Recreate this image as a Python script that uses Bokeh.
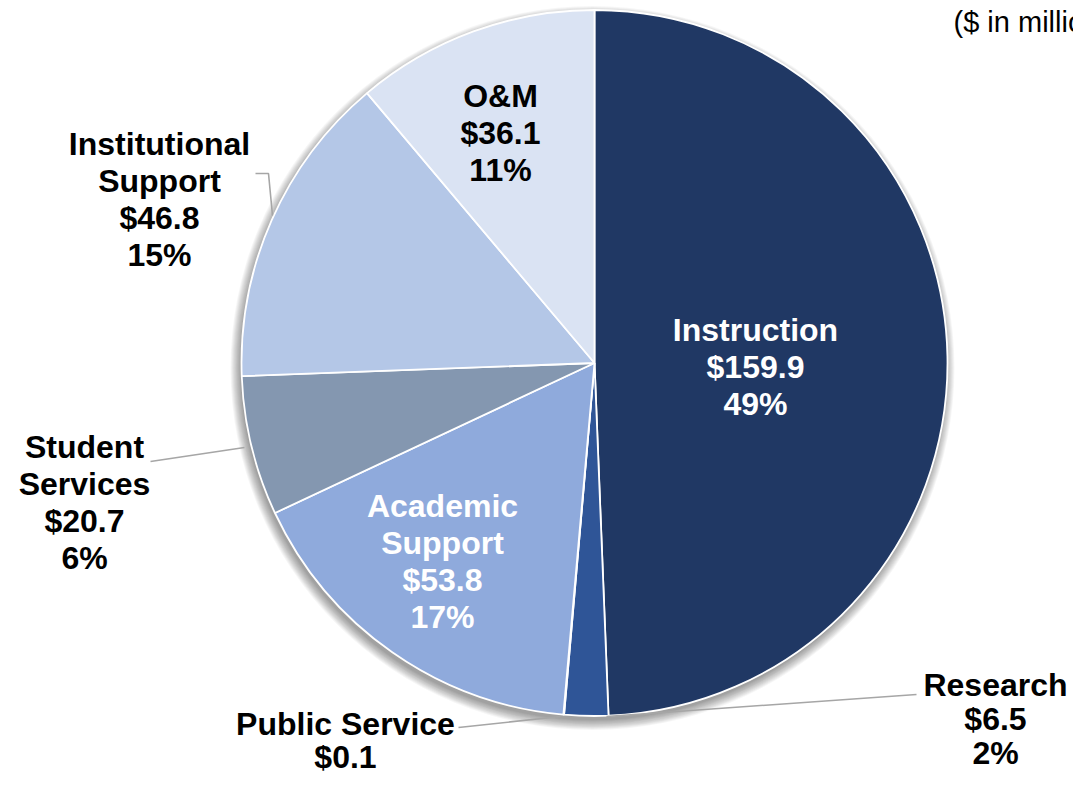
import math
from bokeh.plotting import figure
from bokeh.models import Range1d, ColumnDataSource
from bokeh.core.properties import value
from bokeh.embed import file_html
from bokeh.resources import INLINE

# ---- data ----
categories = ["Instruction", "Research", "Public Service", "Academic Support",
              "Student Services", "Institutional Support", "O&M"]
amounts = [159.9, 6.5, 0.1, 53.8, 20.7, 46.8, 36.1]
amount_labels = ["$159.9", "$6.5", "$0.1", "$53.8", "$20.7", "$46.8", "$36.1"]
pct_labels = ["49%", "2%", "", "17%", "6%", "15%", "11%"]
name_lines = [["Instruction"], ["Research"], ["Public Service"], ["Academic", "Support"],
              ["Student", "Services"], ["Institutional", "Support"], ["O&M"]]
note_text = "($ in millions)"

# ---- styles ----
colors = ["#203864", "#2F5597", "#4472C4", "#8FAADC", "#8497B0", "#B4C7E7", "#DAE3F3"]
text_colors = ["white", "black", "black", "white", "black", "black", "black"]
label_anchor = [(755, 329), (995, 684), (345, 723), (442, 505), (84, 446), (159, 143), (500, 95)]
line_h = [37.3, 34.0, 33.0, 37.3, 37.3, 37.3, 37.3]
FONT = "Liberation Sans"
FS = "32px"

W, H = 1073, 778
PAGE_H = 794


def Y(sy):
    return PAGE_H - sy


p = figure(width=W, height=H, output_backend="svg", toolbar_location=None,
           x_range=Range1d(0, W), y_range=Range1d(PAGE_H - H, PAGE_H),
           min_border=0, border_fill_color="white", background_fill_color="white")
p.xaxis.visible = False
p.yaxis.visible = False
p.xgrid.visible = False
p.ygrid.visible = False
p.outline_line_color = None

cx, cy, R = 594, 362.5, 353

# soft shadow
for k in range(12):
    p.circle(x=[cx - 2], y=[Y(cy + 5)], radius=R + 9 - k * 0.9, fill_color="black",
             fill_alpha=0.035, line_color=None)

total = sum(amounts)
starts, ends = [], []
cum = 0.0
for a in amounts:
    starts.append(math.pi / 2 - 2 * math.pi * cum / total)
    cum += a
    ends.append(math.pi / 2 - 2 * math.pi * cum / total)

src = ColumnDataSource(dict(cat=categories, amt=amounts, start=starts, end=ends, color=colors))
p.wedge(x=cx, y=Y(cy), radius=R, start_angle="start", end_angle="end", direction="clock",
        fill_color="color", line_color="white", line_width=1.8, source=src)

# leader lines (screen coords)
leaders = [
    [(606, 716), (916, 694)],
    [(560, 716), (458, 727)],
    [(244, 447), (150, 461)],
    [(272, 215), (268, 173), (255, 173)],
]
for pts in leaders:
    p.line([q[0] for q in pts], [Y(q[1]) for q in pts], line_color="#A6A6A6", line_width=1.6)

# labels
for i, cat in enumerate(categories):
    lines = list(name_lines[i]) + [amount_labels[i]]
    if pct_labels[i]:
        lines.append(pct_labels[i])
    ax, ay = label_anchor[i]
    xs = [ax] * len(lines)
    ys = [Y(ay + j * line_h[i]) for j in range(len(lines))]
    p.text(x=xs, y=ys, text=lines, text_font=value(FONT), text_font_style="bold",
           text_font_size=FS, text_align="center", text_baseline="middle",
           text_color=text_colors[i])

p.text(x=[953], y=[Y(21)], text=[note_text], text_font=value(FONT), text_font_size="29px",
       text_align="left", text_baseline="middle", text_color="black")

open("out.html", "w").write(file_html(p, INLINE))
